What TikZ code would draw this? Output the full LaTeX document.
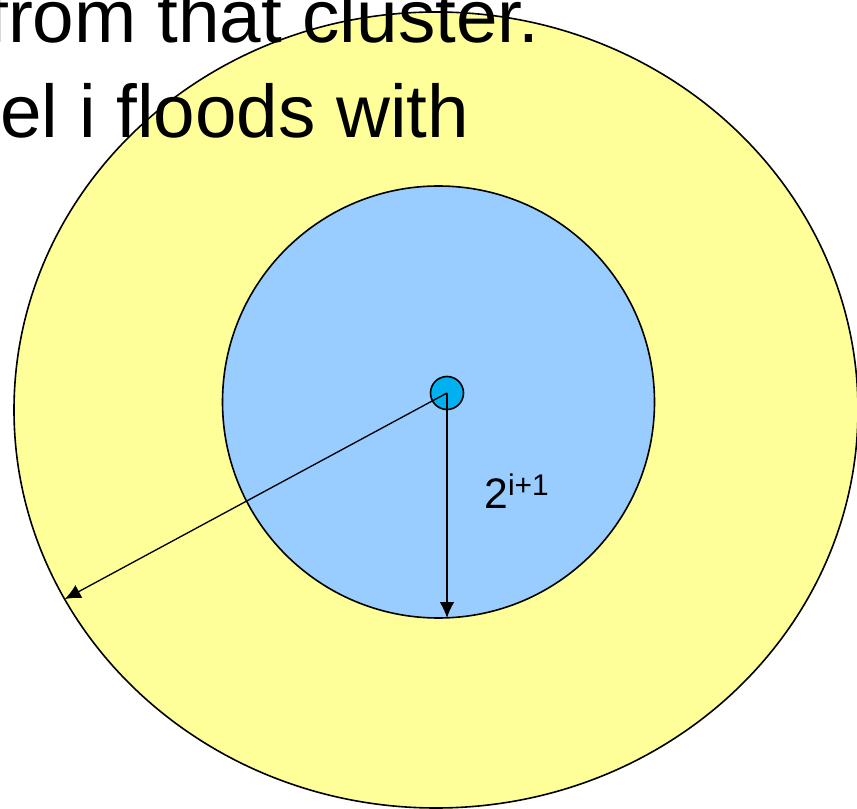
\documentclass[tikz,border=0pt]{standalone}
\usepackage{fontspec}
\setmainfont{Liberation Sans}
\usetikzlibrary{shapes.geometric,arrows.meta}

\definecolor{zoneyellow}{RGB}{255,255,153}
\definecolor{zoneblue}{RGB}{153,204,255}
\definecolor{srcblue}{RGB}{0,176,240}

\begin{document}
\begin{tikzpicture}[x=0.75pt, y=-0.75pt,
    ring/.style={draw=black, line width=1.2pt, inner sep=0pt, outer sep=0pt},
    arr/.style={-{Latex[length=12pt,width=11pt]}, line width=1pt},
    big/.style={anchor=base west, inner sep=0pt, font=\fontsize{56pt}{56pt}\selectfont}]
    \useasboundingbox (0,0) rectangle (857,809);
    % flooding zones
    \node[ring, ellipse, fill=zoneyellow, minimum width=633pt, minimum height=597pt] (outer) at (436,410) {};
    \node[ring, circle, fill=zoneblue, minimum size=324pt] (inner) at (438.5,402) {};
    \node[ring, circle, fill=srcblue, minimum size=24.75pt] (src) at (447,393) {};
    % radii
    \draw[arr] (src.center) -- (src.center |- inner.south);
    \draw[arr] (src.center) -- (outer.207);
    \node[anchor=base west, inner sep=0pt, font=\fontsize{32pt}{32pt}\selectfont] (rlabel) at (484,508) {2\textsuperscript{i+1}};
    % slide text
    \node[big] (line1) at (-13,43) {from that cluster.};
    \node[big] (line2) at (0,138) {el i floods with};
\end{tikzpicture}
\end{document}
